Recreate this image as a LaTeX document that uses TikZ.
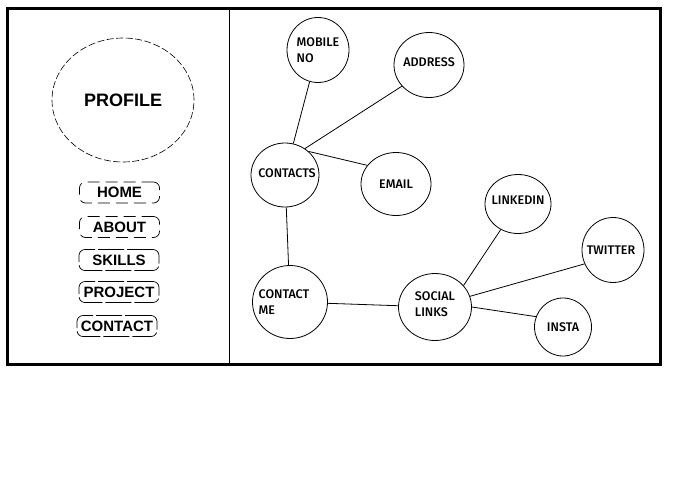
\documentclass[tikz,border=0pt]{standalone}
\usepackage{fontspec}
\newfontfamily\bubblefont{Fira Sans Medium}
\newfontfamily\menufont{Liberation Sans}
\usetikzlibrary{shapes.geometric}
\begin{document}
\begin{tikzpicture}[x=1pt,y=-1pt,
    bubble/.style={draw,ellipse,inner sep=0pt,line width=0.8pt},
    bubbletext/.style={font=\bubblefont\fontsize{12.5}{16}\selectfont,align=left,inner sep=0pt},
    menubtn/.style={draw,rounded corners=6pt,line width=0.7pt,
      dash pattern=on 26pt off 3pt,minimum width=80pt,minimum height=21pt,
      font=\menufont\bfseries\fontsize{15}{17}\selectfont},
    openbtn/.style={menubtn,dash pattern=on 12pt off 6pt}]
  \useasboundingbox (0,0) rectangle (687,482);
  % Page frame and side bar
  \draw[line width=3pt] (7,8) rectangle (660,364);
  \draw[line width=0.8pt] (229,8) -- (229,364);
  % Profile picture
  \node[draw,ellipse,line width=0.6pt,dash pattern=on 7pt off 2.5pt,
    minimum width=142pt,minimum height=124pt,
    font=\menufont\bfseries\fontsize{18}{20}\selectfont] (profile) at (123,100) {PROFILE};
  % Menu buttons
  \node[openbtn] (home) at (119.5,192.5) {HOME};
  \node[openbtn] (about) at (119.5,227) {ABOUT};
  \node[menubtn] (skills) at (119,260) {SKILLS};
  \node[menubtn] (project) at (119,292) {PROJECT};
  \node[menubtn] (contact) at (117,326) {CONTACT};
  % Contact bubbles
  \node[bubble,minimum width=62pt,minimum height=65pt,
    label={[bubbletext]center:{MOBILE\\NO}}] (mobile) at (318,50) {};
  \node[bubble,minimum width=70pt,minimum height=65pt,
    label={[bubbletext,yshift=3pt]center:ADDRESS}] (address) at (429,65) {};
  \node[bubble,minimum width=68pt,minimum height=64pt,
    label={[bubbletext,xshift=2pt,yshift=2pt]center:CONTACTS}] (contacts) at (285,175) {};
  \node[bubble,minimum width=70pt,minimum height=63pt,
    label={[bubbletext]center:EMAIL}] (email) at (396,184) {};
  \node[bubble,minimum width=75pt,minimum height=73pt,
    label={[bubbletext,xshift=-6pt]center:{CONTACT\\ME}}] (contactme) at (290,302) {};
  \node[bubble,minimum width=73pt,minimum height=67pt,
    label={[bubbletext,yshift=3pt]center:{SOCIAL\\LINKS}}] (social) at (435,307) {};
  \node[bubble,minimum width=66pt,minimum height=59pt,
    label={[bubbletext,yshift=4pt]center:LINKEDIN}] (linkedin) at (518,204) {};
  \node[bubble,minimum width=62pt,minimum height=65pt,
    label={[bubbletext,xshift=-2pt]center:TWITTER}] (twitter) at (613,250) {};
  \node[bubble,minimum width=57pt,minimum height=58pt,
    label={[bubbletext]center:INSTA}] (insta) at (563,327) {};
  % Links
  \draw[line width=0.8pt] (mobile) -- (contacts);
  \draw[line width=0.8pt] (address.218) -- (contacts.53);
  \draw[line width=0.8pt] (contacts.45) -- (email.147);
  \draw[line width=0.8pt] (contacts) -- (contactme);
  \draw[line width=0.8pt] (contactme) -- (social);
  \draw[line width=0.8pt] (social.37) -- (linkedin.236);
  \draw[line width=0.8pt] (social.17) -- (twitter.206);
  \draw[line width=0.8pt] (social.0) -- (insta.159);
\end{tikzpicture}
\end{document}
